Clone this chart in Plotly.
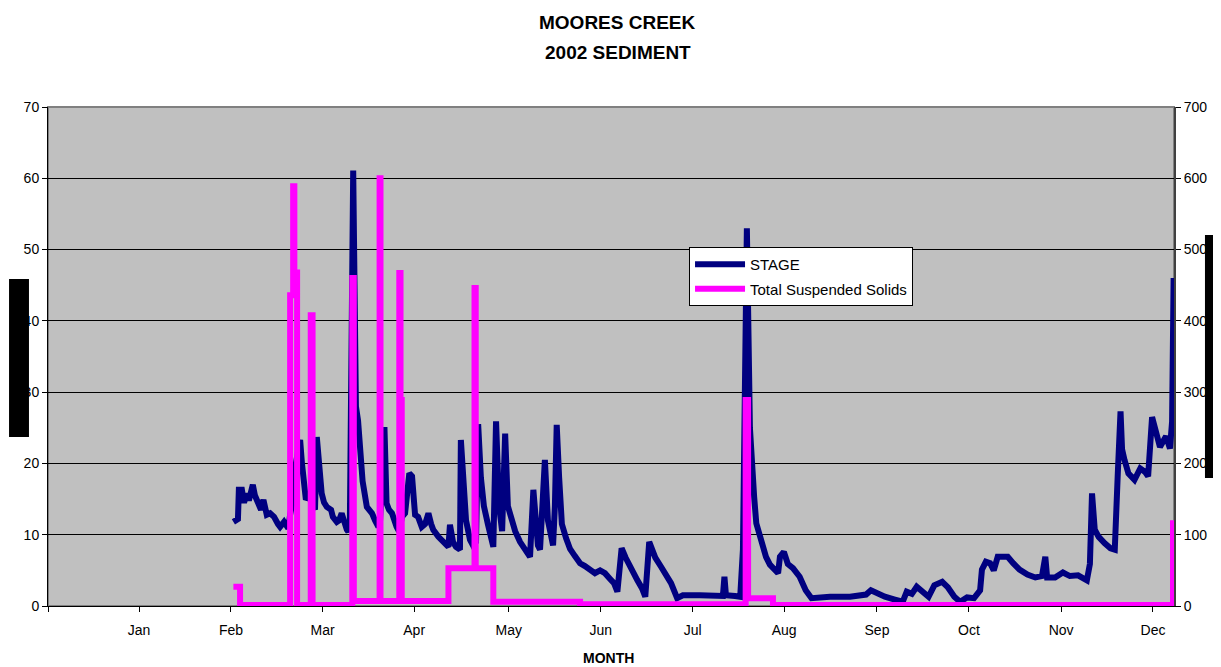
import numpy as np
import pandas as pd
import plotly.graph_objects as go

# ---------------- data (day-of-year 2002, 0 = Jan 1) ----------------
STAGE_DAY = [30.8, 31.7, 32.3, 32.6, 33.6, 34.3, 35.3, 35.9, 37.2, 37.9, 39.0, 39.9, 40.7, 41.8,
             42.9, 44.2, 45.5, 46.2, 47.5, 48.9, 49.5, 50.5, 51.4, 52.8, 53.4, 54.1, 54.7, 55.7,
             56.7, 57.7, 58.3, 59.0, 59.9, 60.7, 61.6, 63.0, 63.6, 64.9, 65.6, 66.5, 67.3, 68.2,
             68.7, 69.2, 70.3, 70.9, 71.2, 71.9, 72.7, 73.4, 74.8, 76.5, 77.5, 78.6, 79.1, 80.6,
             81.3, 82.1, 83.1, 83.8, 84.6, 85.4, 86.4, 87.4, 88.0, 88.8, 89.7, 90.7, 91.7, 92.9,
             94.0, 95.1, 96.0, 96.7, 98.4, 99.9, 101.7, 102.2, 103.2, 104.2, 105.5, 105.8, 106.5,
             107.5, 108.8, 109.8, 110.8, 111.5, 112.4, 113.4, 114.7, 115.7, 116.5, 117.4, 118.4,
             119.4, 120.4, 121.3, 122.7, 123.7, 125.3, 126.9, 128.6, 129.7, 130.6, 131.2, 131.9,
             133.5, 134.5, 135.5, 136.2, 136.8, 137.4, 138.2, 139.1, 140.5, 141.8, 143.4, 145.1,
             146.7, 148.4, 150.0, 151.7, 153.3, 155.0, 156.3, 157.4, 158.8, 160.1, 162.0, 164.0,
             165.5, 166.6, 167.9, 169.9, 171.8, 173.4, 175.1, 177.1, 179.0, 184.6, 189.6, 192.2,
             192.7, 193.2, 196.2, 197.9, 198.8, 200.1, 201.1, 201.9, 202.5, 203.2, 204.5, 205.4,
             206.4, 207.7, 209.0, 210.4, 211.0, 212.3, 213.6, 215.3, 217.5, 219.5, 221.4, 227.5,
             234.1, 237.4, 239.4, 241.0, 243.0, 245.6, 248.9, 251.5, 252.8, 254.5, 256.1, 257.8,
             260.0, 261.9, 264.5, 266.4, 268.5, 270.4, 272.7, 275.0, 277.0, 277.6, 278.9, 280.3,
             281.5, 282.8, 286.1, 287.9, 290.0, 292.6, 295.2, 297.4, 298.5, 299.1, 301.7, 304.3,
             306.6, 309.3, 312.2, 313.2, 313.9, 314.8, 316.1, 318.1, 320.0, 321.4, 322.0, 322.4,
             323.3, 323.8, 324.6, 325.9, 327.9, 329.8, 331.4, 332.4, 333.7, 335.1, 336.3, 338.3,
             339.6, 340.3, 340.8]
STAGE = [11.8, 12.0, 12.2, 16.3, 16.3, 14.5, 15.8, 14.8, 17.0, 15.5, 14.2, 13.5, 14.9, 12.8,
         13.0, 12.5, 11.5, 11.1, 11.8, 10.9, 12.8, 15.0, 20.0, 23.3, 20.0, 17.0, 14.9, 15.5,
         14.5, 13.5, 23.7, 19.0, 15.8, 14.5, 13.9, 13.5, 12.5, 11.8, 12.0, 13.0, 11.5, 10.7,
         10.4, 12.0, 61.1, 35.0, 28.0, 26.0, 21.4, 17.5, 13.9, 13.0, 12.0, 11.1, 11.5, 25.1,
         14.4, 13.5, 13.0, 12.0, 11.1, 10.5, 12.5, 13.0, 16.0, 18.6, 18.2, 12.8, 12.5, 11.1,
         11.5, 13.0, 11.5, 10.7, 9.7, 9.0, 8.3, 11.4, 9.0, 8.3, 7.9, 23.3, 19.0,
         12.0, 9.3, 8.5, 9.0, 25.5, 18.0, 14.0, 11.5, 9.5, 8.3, 25.9, 14.0,
         10.5, 24.2, 14.0, 12.0, 10.5, 9.0, 7.8, 6.9, 16.3, 11.0, 8.5, 7.9,
         20.5, 12.0, 9.5, 8.5, 14.0, 25.4, 18.0, 11.5, 9.5, 8.0, 7.0, 6.0,
         5.6, 5.0, 4.6, 5.0, 4.6, 3.8, 3.2, 2.0, 8.1, 6.8, 5.1, 3.6,
         2.5, 1.3, 9.0, 6.8, 5.5, 4.5, 3.2, 1.1, 1.5, 1.5, 1.5, 1.4,
         4.1, 1.5, 1.4, 1.3, 7.9, 53.0, 25.0, 20.9, 15.3, 11.6, 9.7, 8.0,
         6.9, 5.8, 5.1, 4.6, 6.9, 7.6, 5.9, 5.3, 4.1, 2.2, 1.1, 1.3,
         1.3, 1.4, 1.6, 2.2, 1.8, 1.3, 0.9, 0.6, 2.0, 1.7, 2.7, 2.1,
         1.3, 2.9, 3.4, 2.6, 1.3, 0.6, 1.2, 1.1, 2.2, 5.1, 6.2, 6.0,
         5.0, 6.9, 6.9, 6.0, 5.1, 4.4, 4.0, 4.2, 6.9, 4.0, 4.0, 4.7,
         4.2, 4.3, 3.6, 5.9, 15.8, 10.7, 9.7, 8.8, 8.1, 7.9, 12.6, 18.6,
         27.3, 22.0, 20.5, 18.6, 17.7, 19.3, 18.8, 18.2, 26.5, 24.2, 22.3, 23.8,
         22.1, 25.9, 46.0]

TSS_DAY = [30.8, 33.0, 49.5, 50.5, 50.9, 51.8, 56.3, 56.9, 70.0, 70.5, 79.0, 79.3, 85.5, 85.9,
           86.3, 101.7, 110.3, 110.7, 116.5, 145.1, 199.7, 200.5, 208.7, 340.6, 340.93]
TSS = [27, 1.5, 436, 589, 468, 1.5, 408, 1.5, 460, 7, 600, 7, 467, 289,
       7, 53, 446, 53, 6, 2.5, 289, 11, 1.5, 116, 116]

TICK_DAY = [-30.3, -0.3, 30.0, 60.2, 90.4, 121.6, 151.9, 182.2, 212.4, 243.0, 273.3, 303.7, 334.0]
TICK_LABELS = ["", "Jan", "Feb", "Mar", "Apr", "May", "Jun", "Jul", "Aug", "Sep", "Oct", "Nov", "Dec"]
X_RANGE_DAY = [-30.33, 340.93]

BASE = pd.Timestamp("2002-01-01")


def to_dates(days):
    return BASE + pd.to_timedelta(np.asarray(days, dtype=float), unit="D")


FONT = "Liberation Sans, Arial, sans-serif"

fig = go.Figure()
fig.add_trace(go.Scatter(
    x=to_dates(STAGE_DAY), y=STAGE, name="STAGE", mode="lines",
    line=dict(color="#000080", width=6), legendgroup="g1"))
fig.add_trace(go.Scatter(
    x=to_dates(TSS_DAY), y=TSS, name="Total Suspended Solids", mode="lines",
    line=dict(color="#FF00FF", width=6, shape="hv"), yaxis="y2", legendgroup="g2"))

# page body has an 8px margin, so the figure is 8px smaller than the window
fig.update_layout(
    width=1213, height=659,
    margin=dict(l=40, r=47, t=99, b=61),
    paper_bgcolor="white", plot_bgcolor="#C0C0C0",
    font=dict(family=FONT, size=14, color="black"),
    showlegend=True,
    legend=dict(x=0.5693, y=0.7194, xanchor="left", yanchor="top",
                bgcolor="white", bordercolor="black", borderwidth=1,
                font=dict(family=FONT, size=15, color="black"),
                tracegroupgap=2, itemwidth=50),
    xaxis=dict(type="date", range=list(to_dates(X_RANGE_DAY)),
               tickmode="array", tickvals=list(to_dates(TICK_DAY)), ticktext=TICK_LABELS,
               ticks="outside", ticklen=5, tickcolor="black", showgrid=False,
               showline=True, linecolor="black", linewidth=1, zeroline=False,
               tickfont=dict(family=FONT, size=14), ticklabelstandoff=6),
    yaxis=dict(range=[0, 70], dtick=10, tick0=0, ticks="outside", ticklen=5, tickcolor="black",
               showgrid=True, gridcolor="black", gridwidth=1, zeroline=False,
               showline=True, linecolor="black", linewidth=1,
               tickfont=dict(family=FONT, size=14)),
    yaxis2=dict(range=[0, 700], dtick=100, tick0=0, overlaying="y", side="right",
                ticks="outside", ticklen=5, tickcolor="black", showgrid=False, zeroline=False,
                showline=True, linecolor="#404040", linewidth=2,
                tickfont=dict(family=FONT, size=14)),
    shapes=[
        dict(type="rect", xref="paper", yref="paper", x0=0, x1=1, y0=0, y1=1,
             line=dict(color="#808080", width=2), layer="below"),
        dict(type="rect", xref="paper", yref="paper", x0=-0.0346, x1=-0.0169, y0=0.3387, y1=0.6553,
             fillcolor="black", line=dict(width=0), layer="above"),
        dict(type="rect", xref="paper", yref="paper", x0=1.0275, x1=1.05, y0=0.2565, y1=0.7435,
             fillcolor="black", line=dict(width=0), layer="above"),
    ],
    annotations=[
        dict(text="<b>MOORES CREEK</b>", xref="paper", yref="paper", x=0.506, y=1.1703,
             xanchor="center", yanchor="middle", showarrow=False,
             font=dict(family=FONT, size=19, color="black")),
        dict(text="<b>2002 SEDIMENT</b>", xref="paper", yref="paper", x=0.506, y=1.1092,
             xanchor="center", yanchor="middle", showarrow=False,
             font=dict(family=FONT, size=19, color="black")),
        dict(text="<b>MONTH</b>", xref="paper", yref="paper", x=0.4982, y=-0.1042,
             xanchor="center", yanchor="middle", showarrow=False,
             font=dict(family=FONT, size=14, color="black")),
    ],
)

fig.write_html("out.html")
